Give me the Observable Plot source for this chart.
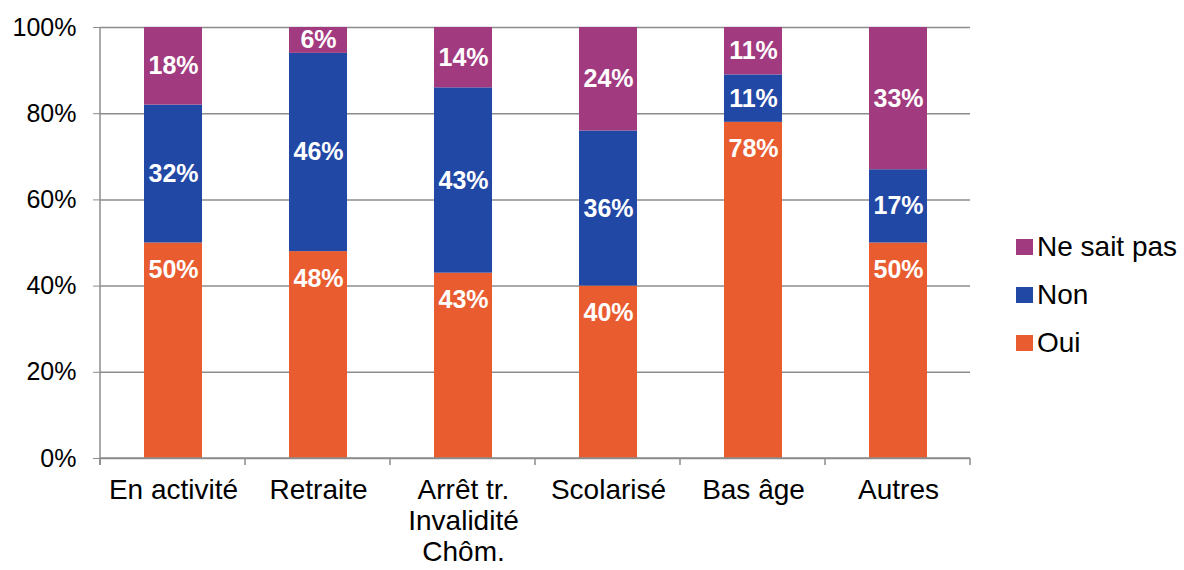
<!DOCTYPE html>
<html><head><meta charset="utf-8">
<script src="https://cdn.jsdelivr.net/npm/d3@7"></script>
<script src="https://cdn.jsdelivr.net/npm/@observablehq/plot@0.6"></script>
<style>
body{margin:0;background:#fff;font-family:"Liberation Sans",Arial,sans-serif}
#wrap{position:relative;width:1184px;height:570px}
#legend{position:absolute;left:1016px;top:223px}
.item{display:flex;align-items:center;height:48px;font-size:28px;color:#000;white-space:nowrap}
.sw{width:17px;height:16px;margin-right:4px}
</style></head><body><div id="wrap"><div id="legend"></div></div>
<script>
const categories = ["En activité","Retraite","Arrêt tr.\nInvalidité\nChôm.","Scolarisé","Bas âge","Autres"];
const series = ["Oui","Non","Ne sait pas"];
const oui = [50,48,43,40,78,50];
const non = [32,46,43,36,11,17];
const nsp = [18,6,14,24,11,33];
const colors = ["#E95C30","#2248A6","#A23A7F"];
const yTicks = [0,20,40,60,80,100];

const values = [oui, non, nsp];
const rows = [];
const base = categories.map(() => 0);
series.forEach((s, si) => {
  categories.forEach((c, i) => {
    const v = values[si][i];
    rows.push({cat: c, series: s, value: v, mid: base[i] + v / 2, top: base[i] + v});
    base[i] += v;
  });
});

const gray = "#8c8c8c";
const axisLines = (index, scales, vals, dims) => {
  const g = d3.create("svg:g").attr("stroke", gray).attr("stroke-width", 1.5).attr("fill", "none");
  const l = dims.marginLeft, r = dims.width - dims.marginRight;
  const t = dims.marginTop, b = dims.height - dims.marginBottom;
  g.append("line").attr("x1", l).attr("x2", l).attr("y1", t).attr("y2", b + 7);
  g.append("line").attr("x1", l).attr("x2", r).attr("y1", b).attr("y2", b);
  const n = categories.length;
  for (let i = 0; i <= n; i++) {
    const x = l + (r - l) * i / n;
    g.append("line").attr("x1", x).attr("x2", x).attr("y1", b).attr("y2", b + 7);
  }
  return g.node();
};

const chart = Plot.plot({
  width: 1184, height: 570,
  marginLeft: 100, marginRight: 214, marginTop: 27, marginBottom: 112,
  style: {fontFamily: "'Liberation Sans', Arial, sans-serif", color: "#000", background: "#fff", overflow: "visible"},
  x: {domain: categories, paddingInner: 0.6, paddingOuter: 0.3, label: null},
  y: {domain: [0, 100], label: null},
  color: {domain: series, range: colors},
  marks: [
    Plot.gridY(yTicks, {stroke: gray, strokeOpacity: 1, strokeWidth: 1.5}),
    Plot.barY(rows, {x: "cat", y: "value", fill: "series"}),
    axisLines,
    Plot.axisY({ticks: yTicks, tickFormat: d => d + "%", tickSize: 7, tickPadding: 17, fontSize: 25, stroke: gray, fill: "#000", label: null}),
    Plot.axisX({tickSize: 0, tickPadding: 18, fontSize: 28, lineHeight: 1.12, fill: "#000", label: null}),
    Plot.text(rows.filter(d => d.series === "Oui"), {x: "cat", y: "top", text: d => d.value + "%", dy: 27, fill: "white", fontWeight: "bold", fontSize: 25}),
    Plot.text(rows.filter(d => d.series !== "Oui"), {x: "cat", y: "mid", text: d => d.value + "%", fill: "white", fontWeight: "bold", fontSize: 25})
  ]
});
document.getElementById("wrap").prepend(chart);

const legend = document.getElementById("legend");
series.slice().reverse().forEach(s => {
  const it = document.createElement("div");
  it.className = "item";
  const sw = document.createElement("span");
  sw.className = "sw";
  sw.style.background = colors[series.indexOf(s)];
  it.appendChild(sw);
  it.appendChild(document.createTextNode(s));
  legend.appendChild(it);
});
</script></body></html>
